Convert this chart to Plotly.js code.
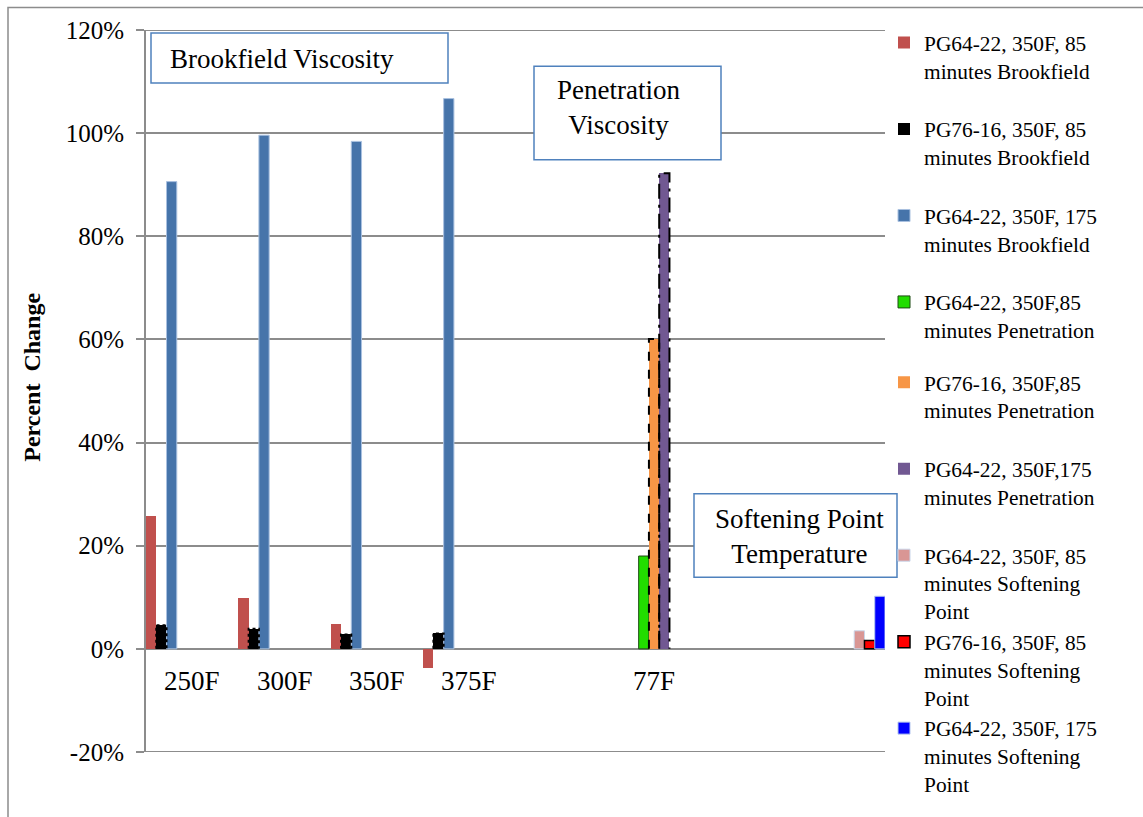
<!DOCTYPE html>
<html>
<head>
<meta charset="utf-8">
<script src="https://cdn.plot.ly/plotly-3.0.1.min.js"></script>
<style>
  html, body { margin: 0; padding: 0; background: #ffffff; }
  #chart { width: 1143px; height: 817px; }
</style>
</head>
<body>
<div id="chart"></div>
<script>
// Test temperatures / groups along the x axis (blank slots keep the spacing)
const categories = ['250F', '300F', '350F', '375F', '', '77F', '', ''];

// Percent change per series, one value per category slot
const brook85PG6422   = [25.8, 9.9, 4.9, -3.8, null, null, null, null];
const brook85PG7616   = [4.6, 3.9, 2.8, 3.0, null, null, null, null];
const brook175PG6422  = [90.6, 99.6, 98.4, 106.7, null, null, null, null];
const pen85PG6422     = [null, null, null, null, null, 18.0, null, null];
const pen85PG7616     = [null, null, null, null, null, 60.1, null, null];
const pen175PG6422    = [null, null, null, null, null, 92.2, null, null];
const soft85PG6422    = [null, null, null, null, null, null, null, 3.5];
const soft85PG7616    = [null, null, null, null, null, null, null, 1.6];
const soft175PG6422   = [null, null, null, null, null, null, null, 10.2];

const seriesNames = [
  'PG64-22, 350F, 85<br>minutes Brookfield<br> ',
  'PG76-16, 350F, 85<br>minutes Brookfield<br> ',
  'PG64-22, 350F, 175<br>minutes Brookfield<br> ',
  'PG64-22, 350F,85<br>minutes Penetration<br> ',
  'PG76-16, 350F,85<br>minutes Penetration<br> ',
  'PG64-22, 350F,175<br>minutes Penetration<br> ',
  'PG64-22, 350F, 85<br>minutes Softening<br>Point',
  'PG76-16, 350F, 85<br>minutes Softening<br>Point',
  'PG64-22, 350F, 175<br>minutes Softening<br>Point'
];

const yTickVals = [-20, 0, 20, 40, 60, 80, 100, 120];
const yTickText = ['-20%', '0%', '20%', '40%', '60%', '80%', '100%', '120%'];

const seriesValues = [
  brook85PG6422, brook85PG7616, brook175PG6422,
  pen85PG6422, pen85PG7616, pen175PG6422,
  soft85PG6422, soft85PG7616, soft175PG6422
];

const fills = ['#c0504d', '#000000', '#4674aa', '#22dd00', '#f79646', '#715892', '#d99694', '#ff0000', '#0000ff'];
const edges = [
  {color: '#c0504d', width: 0},
  {color: '#000000', width: 0},
  {color: '#a9c1e0', width: 1},
  {color: '#1d4a12', width: 1},
  {color: '#f79646', width: 0},
  {color: '#715892', width: 0},
  {color: '#c9d6ea', width: 1},
  {color: '#000000', width: 1.5},
  {color: '#b4c6ee', width: 1}
];
const legendOf = ['legend', 'legend', 'legend', 'legend', 'legend2', 'legend2', 'legend2', 'legend2', 'legend2'];

const xIdx = categories.map((c, i) => i);
const nSlots = seriesValues.length;

const traces = seriesValues.map((vals, s) => ({
  type: 'bar',
  name: seriesNames[s],
  x: xIdx,
  y: vals,
  legend: legendOf[s],
  marker: { color: fills[s], line: edges[s] },
  hoverinfo: 'skip'
}));

// Dashed outlines around the grouped bar of a series (slot = series position in the group)
function outline(vals, slot, dash, width) {
  const xs = [], ys = [];
  vals.forEach((v, i) => {
    if (v === null) return;
    const x0 = i - 0.5 + slot / nSlots;
    const x1 = x0 + 1 / nSlots;
    xs.push(x0, x0, x1, x1, null);
    ys.push(0, v, v, 0, null);
  });
  return {
    type: 'scatter', mode: 'lines', x: xs, y: ys, showlegend: false,
    hoverinfo: 'skip', line: { color: '#000000', width: width, dash: dash }
  };
}
traces.push(outline(pen85PG7616, 4, 'dash', 2));
traces.push(outline(pen175PG6422, 5, 'longdashdot', 2));
traces.push(outline(brook85PG7616, 1, 'dot', 2));

const W = 1143, H = 817;
const M = { l: 146, r: 258, t: 30, b: 52 };
const PW = W - M.l - M.r, PH = H - M.t - M.b;
const px2x = X => (X - M.l) / PW;
const px2y = Y => (H - M.b - Y) / PH;

const serif = 'Liberation Serif, Times New Roman, serif';
const boxLine = { color: '#4f81bd', width: 1.5 };
const axisGrey = '#8c8c8c';

const shapes = [
  { type: 'rect', xref: 'paper', yref: 'paper', x0: px2x(8), x1: px2x(1170), y0: px2y(840), y1: px2y(7),
    line: { color: axisGrey, width: 1.5 }, fillcolor: 'rgba(0,0,0,0)', layer: 'below' },
  { type: 'rect', xref: 'paper', yref: 'paper', x0: px2x(151), x1: px2x(448), y0: px2y(84), y1: px2y(33),
    line: boxLine, fillcolor: '#ffffff', layer: 'above' },
  { type: 'rect', xref: 'paper', yref: 'paper', x0: px2x(534), x1: px2x(721), y0: px2y(162), y1: px2y(67),
    line: boxLine, fillcolor: '#ffffff', layer: 'above' },
  { type: 'rect', xref: 'paper', yref: 'paper', x0: px2x(694), x1: px2x(897), y0: px2y(587), y1: px2y(502),
    line: boxLine, fillcolor: '#ffffff', layer: 'above' }
];
// Gridlines at the two ends of the value range
[yTickVals[0], yTickVals[yTickVals.length - 1]].forEach(v => {
  shapes.push({ type: 'line', xref: 'paper', yref: 'y', x0: 0, x1: 1, y0: v, y1: v,
    line: { color: axisGrey, width: 2 }, layer: 'below' });
});

const boxFont = { family: serif, size: 27, color: '#000' };
const annotations = [
  { xref: 'paper', yref: 'paper', x: px2x(168), y: px2y(60), xanchor: 'left', yanchor: 'middle',
    text: 'Brookfield Viscosity', showarrow: false, font: boxFont },
  { xref: 'paper', yref: 'paper', x: px2x(618), y: px2y(109), xanchor: 'center', yanchor: 'middle',
    text: 'Penetration<br>Viscosity', align: 'center', showarrow: false, font: boxFont },
  { xref: 'paper', yref: 'paper', x: px2x(799), y: px2y(546), xanchor: 'center', yanchor: 'middle',
    text: 'Softening Point<br>Temperature', align: 'center', showarrow: false, font: boxFont },
  { xref: 'paper', yref: 'paper', x: px2x(32), y: px2y(384), xanchor: 'center', yanchor: 'middle',
    text: '<b>Percent\u00a0\u00a0Change</b>', textangle: -90, showarrow: false,
    font: { family: serif, size: 24, color: '#000' } }
];
// Category labels sit just under the zero line
categories.forEach((c, i) => {
  if (!c) return;
  annotations.push({ xref: 'x', yref: 'y', x: i, y: 0, yshift: -32, xanchor: 'center', yanchor: 'middle',
    text: c, showarrow: false, font: { family: serif, size: 27, color: '#000' } });
});

const legendFont = { family: serif, size: 21.4, color: '#000' };

const layout = {
  width: W, height: H,
  margin: M,
  paper_bgcolor: '#ffffff', plot_bgcolor: '#ffffff',
  barmode: 'group', bargap: 0, bargroupgap: 0,
  showlegend: true,
  xaxis: {
    range: [-0.5, categories.length - 0.5],
    showgrid: false, zeroline: false, showline: false, showticklabels: false, ticks: ''
  },
  yaxis: {
    range: [-20, 120],
    tickmode: 'array', tickvals: yTickVals, ticktext: yTickText,
    showgrid: true, gridcolor: axisGrey, gridwidth: 2,
    zeroline: true, zerolinecolor: axisGrey, zerolinewidth: 2,
    showline: true, linecolor: axisGrey, linewidth: 2,
    ticks: 'outside', ticklen: 8, tickcolor: axisGrey, tickwidth: 2,
    ticklabelstandoff: 7,
    tickfont: { family: serif, size: 25, color: '#000' }
  },
  legend: {
    x: px2x(884), y: px2y(22), xanchor: 'left', yanchor: 'top',
    valign: 'top', font: legendFont, bgcolor: 'rgba(0,0,0,0)', borderwidth: 0, itemclick: false
  },
  legend2: {
    x: px2x(884), y: px2y(22 + 4 * (3 * 1.3 * 21.4 + 3)), xanchor: 'left', yanchor: 'top',
    valign: 'top', font: legendFont, bgcolor: 'rgba(0,0,0,0)', borderwidth: 0, itemclick: false
  },
  shapes: shapes,
  annotations: annotations
};

Plotly.newPlot('chart', traces, layout, { displayModeBar: false, staticPlot: true });
</script>
</body>
</html>
